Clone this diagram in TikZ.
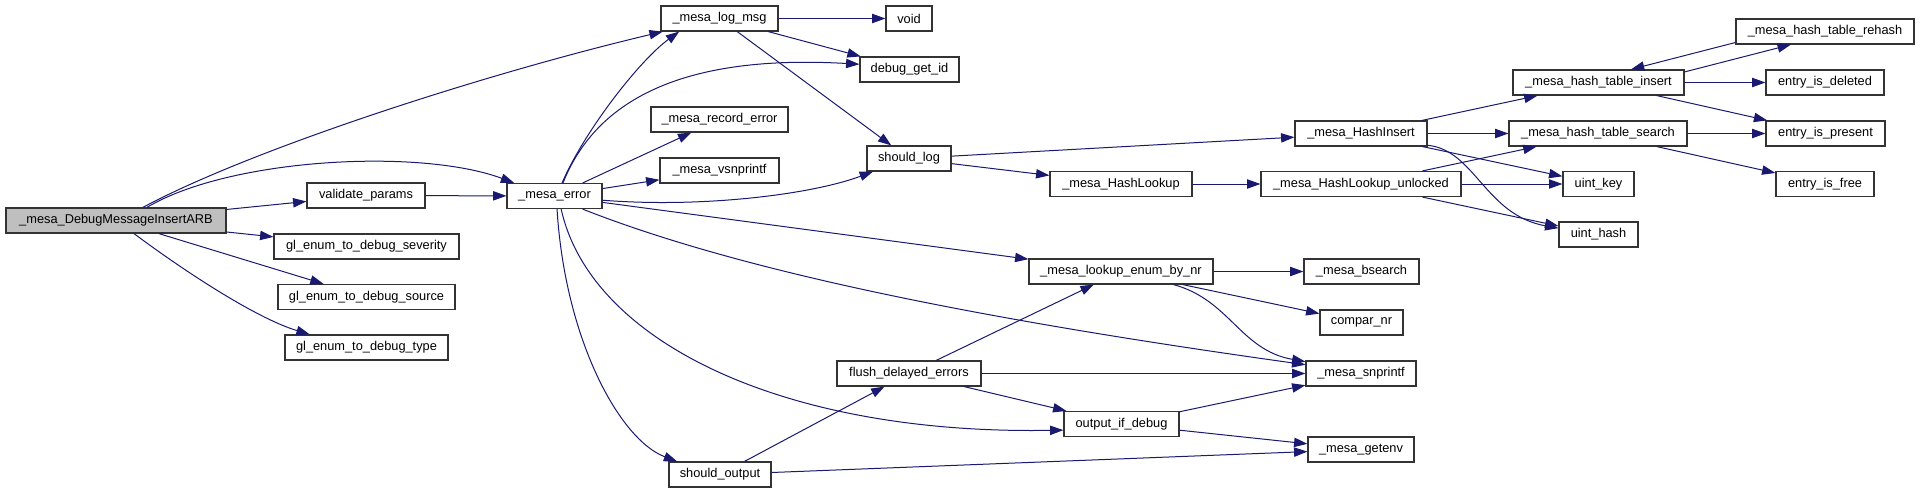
\documentclass[tikz,border=0pt]{standalone}
\usepackage{fontspec}
\setmainfont{Liberation Sans}
\usetikzlibrary{arrows.meta}
\definecolor{edgeblue}{RGB}{25,25,112}
\definecolor{rootgray}{RGB}{191,191,191}

\begin{document}
\begin{tikzpicture}[x=0.75pt,y=-0.75pt,
  fn/.style={draw=black!80, line width=0.9pt, fill=white, minimum width=#1*0.75pt,
    minimum height=18.75pt, inner xsep=1pt, inner ysep=0pt, font=\fontsize{9.6}{11}\selectfont},
  call/.style={draw=edgeblue, line width=0.75pt, -{Triangle[length=10pt,width=7pt]}}]
  \useasboundingbox (0,0) rectangle (1920,493);
  \node[fn=220, fill=rootgray] (arb) at (116,220.5) {\_mesa\_DebugMessageInsertARB};
  \node[fn=118] (validate) at (366,195.5) {validate\_params};
  \node[fn=185] (severity) at (366.5,246.5) {gl\_enum\_to\_debug\_severity};
  \node[fn=177] (source) at (366.5,297) {gl\_enum\_to\_debug\_source};
  \node[fn=163] (gltype) at (366.5,347.5) {gl\_enum\_to\_debug\_type};
  \node[fn=95] (err) at (554.5,196) {\_mesa\_error};
  \node[fn=117] (logmsg) at (719.5,18.5) {\_mesa\_log\_msg};
  \node[fn=137] (recerr) at (719.5,119.5) {\_mesa\_record\_error};
  \node[fn=119] (vsnp) at (719.5,170.5) {\_mesa\_vsnprintf};
  \node[fn=102] (shouldout) at (720,474.5) {should\_output};
  \node[fn=46] (void) at (909,18.5) {void};
  \node[fn=99] (getid) at (909.5,69.5) {debug\_get\_id};
  \node[fn=84] (shouldlog) at (909,158.5) {should\_log};
  \node[fn=144] (flush) at (909,373.5) {flush\_delayed\_errors};
  \node[fn=142] (hlook) at (1121,184) {\_mesa\_HashLookup};
  \node[fn=184] (lookenum) at (1121,271.5) {\_mesa\_lookup\_enum\_by\_nr};
  \node[fn=115] (outdbg) at (1121.5,424) {output\_if\_debug};
  \node[fn=132] (hins) at (1361,133.5) {\_mesa\_HashInsert};
  \node[fn=200] (hlookun) at (1361,184) {\_mesa\_HashLookup\_unlocked};
  \node[fn=115] (bsearch) at (1361.5,271.5) {\_mesa\_bsearch};
  \node[fn=83] (compar) at (1361.5,322.5) {compar\_nr};
  \node[fn=110] (snp) at (1361,373.5) {\_mesa\_snprintf};
  \node[fn=106] (getenv) at (1361,449.5) {\_mesa\_getenv};
  \node[fn=171] (tins) at (1598.5,82.5) {\_mesa\_hash\_table\_insert};
  \node[fn=178] (tsearch) at (1598,133.5) {\_mesa\_hash\_table\_search};
  \node[fn=71] (ukey) at (1598.5,184) {uint\_key};
  \node[fn=79] (uhash) at (1598.5,234.5) {uint\_hash};
  \node[fn=178] (rehash) at (1825,31.5) {\_mesa\_hash\_table\_rehash};
  \node[fn=118] (deleted) at (1825,82.5) {entry\_is\_deleted};
  \node[fn=119] (present) at (1825.5,133.5) {entry\_is\_present};
  \node[fn=98] (efree) at (1825,184) {entry\_is\_free};
  \draw[call] (arb) -- (validate);
  \draw[call] (arb) -- (severity);
  \draw[call] (arb) -- (source);
  \draw[call] (arb.-36) .. controls (180,268) and (255,318) .. (gltype.167);
  \draw[call] (arb.26) .. controls (250,150) and (480,75) .. (logmsg.193);
  \draw[call] (arb.23) .. controls (230,158) and (420,148) .. (err.162);
  \draw[call] (validate) -- (err);
  \draw[call] (err.60) .. controls (585,130) and (640,60) .. (logmsg.198);
  \draw[call] (err.57) .. controls (600,90) and (700,55) .. (getid.174);
  \draw[call] (err) -- (recerr);
  \draw[call] (err) -- (vsnp);
  \draw[call] (err.-5) .. controls (700,208) and (810,195) .. (shouldlog.200);
  \draw[call] (err) -- (lookenum);
  \draw[call] (err.-25) .. controls (750,275) and (1000,322) .. (snp.171);
  \draw[call] (err.-63) .. controls (590,340) and (780,435) .. (outdbg.186);
  \draw[call] (err.-79) .. controls (565,340) and (620,440) .. (shouldout.163);
  \draw[call] (logmsg) -- (void);
  \draw[call] (logmsg) -- (getid);
  \draw[call] (logmsg) -- (shouldlog);
  \draw[call] (shouldlog) -- (hins);
  \draw[call] (shouldlog) -- (hlook);
  \draw[call] (hlook) -- (hlookun);
  \draw[call] (hins) -- (tins);
  \draw[call] (hins) -- (tsearch);
  \draw[call] (hins) -- (ukey);
  \draw[call] (hins.-10) .. controls (1475,150) and (1485,215) .. (uhash.171);
  \draw[call] (hlookun) -- (tsearch);
  \draw[call] (hlookun) -- (ukey);
  \draw[call] (hlookun) -- (uhash);
  \draw[call] (tins.7) -- (rehash.201);
  \draw[call] (rehash.187) -- (tins.22);
  \draw[call] (tins) -- (deleted);
  \draw[call] (tins) -- (present);
  \draw[call] (tsearch) -- (present);
  \draw[call] (tsearch) -- (efree);
  \draw[call] (lookenum) -- (bsearch);
  \draw[call] (lookenum) -- (compar);
  \draw[call] (lookenum.-14) .. controls (1230,300) and (1240,350) .. (snp.168);
  \draw[call] (flush) -- (lookenum);
  \draw[call] (flush) -- (snp);
  \draw[call] (flush) -- (outdbg);
  \draw[call] (shouldout) -- (flush);
  \draw[call] (shouldout) -- (getenv);
  \draw[call] (outdbg) -- (snp);
  \draw[call] (outdbg) -- (getenv);
\end{tikzpicture}
\end{document}
